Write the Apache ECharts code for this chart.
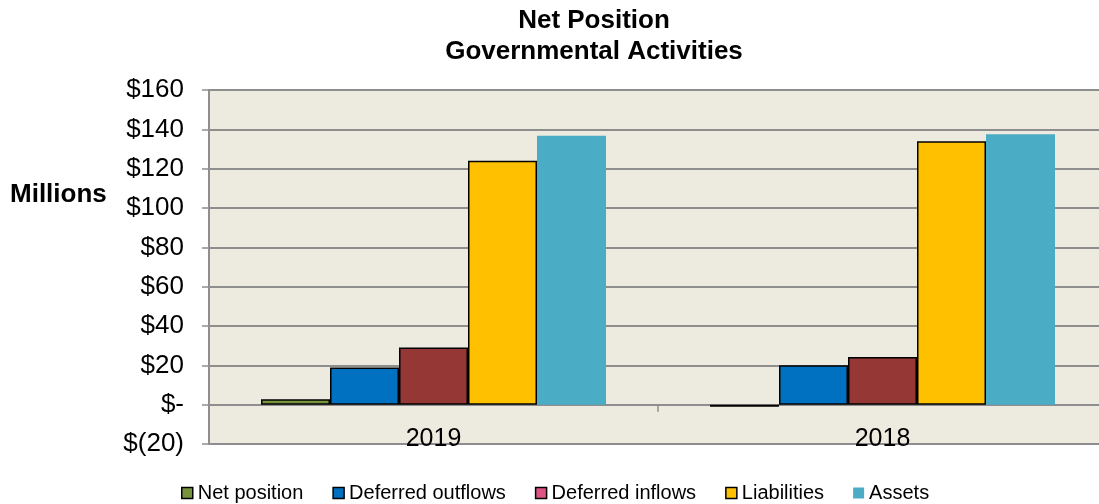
<!DOCTYPE html>
<html>
<head>
<meta charset="utf-8">
<script src="https://cdn.jsdelivr.net/npm/echarts@6/dist/echarts.min.js"></script>
<style>
html,body{margin:0;padding:0;background:#fff;overflow:hidden;}
#chart{width:1120px;height:504px;}
</style>
</head>
<body>
<div id="chart"></div>
<script>
const categories = ['2019', '2018'];
const netPosition = [2.8, -1.1];
const deferredOutflows = [18.9, 20.1];
const deferredInflows = [29.1, 24.3];
const liabilities = [124, 134];
const assets = [136.7, 137.5];
const seriesNames = ['Net position', 'Deferred outflows', 'Deferred inflows', 'Liabilities', 'Assets'];
const yTicks = { min: -20, max: 160, interval: 20 };

const colors = ['#77933C', '#0070C0', '#953735', '#FFC000', '#4BACC6'];
const legendColors = ['#77933C', '#0070C0', '#DE5384', '#FFC000', '#4BACC6'];
const values = [netPosition, deferredOutflows, deferredInflows, liabilities, assets];

const chart = echarts.init(document.getElementById('chart'));
const font = '"Liberation Sans", Arial, sans-serif';

chart.setOption({
  animation: false,
  backgroundColor: '#ffffff',
  title: {
    text: 'Net Position\nGovernmental Activities',
    left: 589, textAlign: 'center', top: 0,
    textStyle: { fontFamily: font, fontWeight: 'bold', fontSize: 26, lineHeight: 31, color: '#000' }
  },
  graphic: [{
    type: 'text', left: 10, top: 182,
    style: { text: 'Millions', font: 'bold 26px "Liberation Sans", Arial, sans-serif', fill: '#000' }
  }],
  legend: {
    left: 176, top: 478, itemWidth: 11, itemHeight: 11, itemGap: 29,
    textStyle: { fontFamily: font, fontSize: 20, color: '#000', padding: [0, 0, 0, 0] },
    data: seriesNames.map((n, i) => ({
      name: n, icon: 'rect',
      itemStyle: { color: legendColors[i], borderColor: i < 4 ? '#000' : 'transparent', borderWidth: i < 4 ? 1.5 : 0 }
    }))
  },
  grid: {
    left: 209, top: 90, width: 898, height: 354,
    show: true, backgroundColor: '#EDEBE0', borderWidth: 0
  },
  xAxis: {
    type: 'category', data: categories,
    axisLine: { onZero: true, lineStyle: { color: '#8E8E8E', width: 2 } },
    axisTick: { show: true, length: 7, lineStyle: { color: '#8E8E8E', width: 1.5 } },
    axisLabel: { fontFamily: font, fontSize: 25, color: '#000', margin: -17 }
  },
  yAxis: {
    type: 'value', min: yTicks.min, max: yTicks.max, interval: yTicks.interval,
    axisLine: { show: true, lineStyle: { color: '#8E8E8E', width: 2 } },
    axisTick: { show: true, length: 7, lineStyle: { color: '#8E8E8E', width: 1.5 } },
    splitLine: { lineStyle: { color: '#8E8E8E', width: 2 } },
    axisLabel: {
      fontFamily: font, fontSize: 26, color: '#000', margin: 25,
      formatter: v => v > 0 ? '$' + v : (v === 0 ? '$-' : '$(' + Math.abs(v) + ')')
    }
  },
  series: seriesNames.map((n, i) => ({
    name: n, type: 'bar', data: values[i],
    barWidth: 69, barGap: '0%',
    itemStyle: {
      color: colors[i],
      borderColor: i < 4 ? '#000' : colors[i],
      borderWidth: i < 4 ? 1.5 : 0
    }
  }))
});
</script>
</body>
</html>
